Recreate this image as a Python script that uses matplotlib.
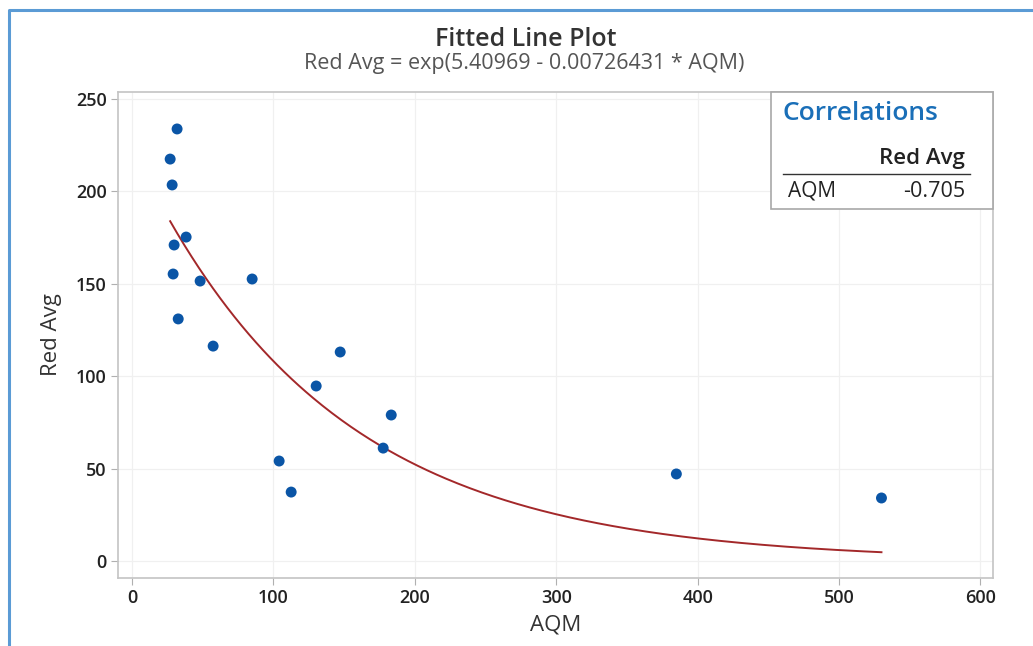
import numpy as np
import matplotlib.pyplot as plt
from matplotlib.lines import Line2D

plt.rcParams['font.family'] = ['Open Sans', 'DejaVu Sans']

aqm = [31.8, 26.9, 28.3, 38.2, 29.7, 29.0, 48.1, 84.9, 32.6, 57.3,
       147.2, 130.2, 183.3, 177.6, 104.0, 112.5, 385.0, 530.1]
red_avg = [233.8, 217.5, 203.5, 175.3, 171.0, 155.3, 151.5, 152.6, 131.0, 116.3,
           113.1, 94.7, 79.0, 61.1, 54.1, 37.3, 47.1, 34.1]
b0, b1 = 5.40969, 0.00726431
corr = -0.705
xticks = [0, 100, 200, 300, 400, 500, 600]
yticks = [0, 50, 100, 150, 200, 250]

W, H = 1033, 646
fig = plt.figure(figsize=(W / 100, H / 100), dpi=100)
ax = fig.add_axes([118 / W, 1 - 578 / H, 875 / W, 486 / H])

xf = np.linspace(min(aqm), max(aqm), 300)
ax.plot(xf, np.exp(b0 - b1 * xf), color='#a3282a', lw=1.4, zorder=2)
ax.scatter(aqm, red_avg, s=62, color='#0a55a6', edgecolors='none', zorder=3)

ax.set_xlim(-10, 609)
ax.set_ylim(-9.2, 253.8)
ax.set_xticks(xticks)
ax.set_yticks(yticks)
ax.grid(True, color='#f0f0f0', lw=0.9)
ax.set_axisbelow(True)
for s in ax.spines.values():
    s.set_color('#c4c4c4')
    s.set_linewidth(1.2)
ax.tick_params(direction='out', length=5, color='#b0b0b0',
               labelsize=13, labelcolor='#222222', pad=3)
for lab in ax.get_xticklabels() + ax.get_yticklabels():
    lab.set_fontweight('semibold')
ax.set_xlabel('AQM', fontsize=16, color='#333333', labelpad=5)
ax.set_ylabel('Red Avg', fontsize=16, color='#333333', labelpad=10)

fig.text(0.509, 1 - 40 / H, 'Fitted Line Plot', ha='center', va='center',
         fontsize=18, fontweight='semibold', color='#333333')
fig.text(0.507, 1 - 64 / H, 'Red Avg = exp(5.40969 - 0.00726431 * AQM)',
         ha='center', va='center', fontsize=15.5, color='#555555')

# correlations box
box = plt.Rectangle((771 / W, 1 - 209 / H), 222 / W, 117 / H, transform=fig.transFigure,
                    facecolor='white', edgecolor='#a8a8a8', lw=1.2, zorder=5)
fig.add_artist(box)
fig.text(783 / W, 1 - 113 / H, 'Correlations', ha='left', va='center', fontsize=19,
         fontweight='semibold', color='#1a6fb8', zorder=6)
fig.text(965 / W, 1 - 159 / H, 'Red Avg', ha='right', va='center', fontsize=16,
         fontweight='semibold', color='#222222', zorder=6)
fig.add_artist(Line2D([783 / W, 970 / W], [1 - 174 / H, 1 - 174 / H],
                      transform=fig.transFigure, color='#333333', lw=1.0, zorder=6))
fig.text(788 / W, 1 - 191 / H, 'AQM', ha='left', va='center', fontsize=15,
         color='#222222', zorder=6)
fig.text(965 / W, 1 - 191 / H, f'{corr:.3f}', ha='right', va='center', fontsize=15.5,
         color='#222222', zorder=6)

# outer blue frame
fig.add_artist(Line2D([9 / W, 9 / W, 1.0], [0.0, 1 - 10 / H, 1 - 10 / H],
                      transform=fig.transFigure, color='#5b9bd5', lw=2.2))

fig.savefig('out.png', dpi=100)
